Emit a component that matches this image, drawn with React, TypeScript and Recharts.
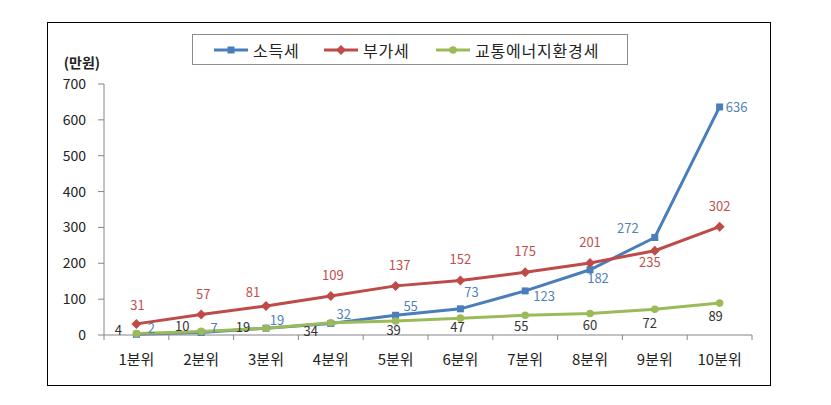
import { LineChart, Line, XAxis, YAxis, LabelList } from 'recharts'

const categories = ['1분위', '2분위', '3분위', '4분위', '5분위', '6분위', '7분위', '8분위', '9분위', '10분위']
const incomeTax = [2, 7, 19, 32, 55, 73, 123, 182, 272, 636]
const vat = [31, 57, 81, 109, 137, 152, 175, 201, 235, 302]
const energyTax = [4, 10, 19, 34, 39, 47, 55, 60, 72, 89]
const yTicks = [0, 100, 200, 300, 400, 500, 600, 700]
const seriesNames = ['소득세', '부가세', '교통에너지환경세']
const unitLabel = '(만원)'

// label nudges (px) so the numbers sit where Excel put them
const incomeOffsets = [[15, -7], [13, -5], [11, -9], [13, -10], [15, -10], [11, -17], [19, 5], [8, 8], [-27, -10], [17, 0]]
const vatOffsets = [[1, -19], [2, -21], [-13, -14], [2, -21], [4, -21], [0, -22], [0, -22], [0, -21], [-5, 11], [0, -21]]
const energyOffsets = [[-18, -4], [-19, -6], [-23, -2], [-20, 8], [-2, 8], [-3, 8], [-4, 10], [0, 11], [-5, 13], [-4, 12]]

const FONT = '"Noto Sans CJK KR", "Noto Sans", sans-serif'
const BLUE = '#4A7EBB'
const RED = '#BE4B48'
const GREEN = '#9BBB59'

const W = 831
const H = 405
const M = { top: 84, right: 79, bottom: 40, left: 64 }
const Y_AXIS_W = 40
const X_AXIS_H = 30
const STEP = (W - M.left - Y_AXIS_W - M.right) / categories.length

const data = categories.map((name, i) => ({
  name,
  income: incomeTax[i],
  vat: vat[i],
  energy: energyTax[i],
}))

function squareDot(color: string) {
  return (p: any) => {
    if (p.cx == null || p.cy == null) return <g key={`s-${p.index}`} />
    return <rect key={`s-${p.index}`} x={p.cx - 3.5} y={p.cy - 3.5} width={7} height={7} fill={color} />
  }
}

function diamondDot(color: string) {
  return (p: any) => {
    if (p.cx == null || p.cy == null) return <g key={`d-${p.index}`} />
    const r = 5
    return (
      <polygon
        key={`d-${p.index}`}
        points={`${p.cx},${p.cy - r} ${p.cx + r},${p.cy} ${p.cx},${p.cy + r} ${p.cx - r},${p.cy}`}
        fill={color}
      />
    )
  }
}

function circleDot(color: string) {
  return (p: any) => {
    if (p.cx == null || p.cy == null) return <g key={`c-${p.index}`} />
    return <circle key={`c-${p.index}`} cx={p.cx} cy={p.cy} r={3.8} fill={color} />
  }
}

function makeLabel(offsets: number[][], color: string) {
  return (props: any) => {
    const x = props.x ?? props.viewBox?.x
    const y = props.y ?? props.viewBox?.y
    if (x == null || y == null) return null
    const [dx, dy] = offsets[props.index] ?? [0, -14]
    return (
      <text
        x={x + dx}
        y={y + dy}
        textAnchor="middle"
        dominantBaseline="central"
        fill={color}
        fontSize={13}
        fontFamily={FONT}
      >
        {props.value}
      </text>
    )
  }
}

function CategoryTick({ x, y, payload, index }: any) {
  const last = index === categories.length - 1
  return (
    <g>
      <line x1={x - STEP / 2} y1={y} x2={x - STEP / 2} y2={y + 5} stroke="#868686" />
      {last && <line x1={x + STEP / 2} y1={y} x2={x + STEP / 2} y2={y + 5} stroke="#868686" />}
      <text x={x} y={y + 23} textAnchor="middle" dominantBaseline="central" fill="#222" fontSize={15} fontFamily={FONT}>
        {payload.value}
      </text>
    </g>
  )
}

function LegendBox() {
  const items = [
    { name: seriesNames[0], color: BLUE, x: 21, marker: 'square' },
    { name: seriesNames[1], color: RED, x: 131, marker: 'diamond' },
    { name: seriesNames[2], color: GREEN, x: 243, marker: 'circle' },
  ]
  return (
    <div
      style={{
        position: 'absolute',
        left: 192,
        top: 34,
        width: 434,
        height: 29,
        border: '1px solid #8c8c8c',
        background: '#fff',
      }}
    >
      <svg width={434} height={29}>
        {items.map((it) => {
          const cx = it.x + 17
          return (
            <g key={it.name}>
              <line x1={it.x} y1={15} x2={it.x + 34} y2={15} stroke={it.color} strokeWidth={3} />
              {it.marker === 'square' && <rect x={cx - 3.5} y={11.5} width={7} height={7} fill={it.color} />}
              {it.marker === 'diamond' && (
                <polygon points={`${cx},10 ${cx + 5},15 ${cx},20 ${cx - 5},15`} fill={it.color} />
              )}
              {it.marker === 'circle' && <circle cx={cx} cy={15} r={3.8} fill={it.color} />}
              <text x={it.x + 39} y={15} dominantBaseline="central" fontSize={16} letterSpacing={0.8} fontFamily={FONT} fill="#222">
                {it.name}
              </text>
            </g>
          )
        })}
      </svg>
    </div>
  )
}

export default function App() {
  return (
    <div style={{ position: 'absolute', left: 0, top: 0, width: W, height: H, background: '#fff' }}>
      <div
        style={{
          position: 'absolute',
          left: 47,
          top: 22,
          width: 722,
          height: 362,
          border: '1.5px solid #000',
        }}
      />
      <div
        style={{
          position: 'absolute',
          left: 82,
          top: 62,
          transform: 'translate(-50%, -50%)',
          fontFamily: FONT,
          fontSize: 14,
          fontWeight: 700,
          color: '#222',
          whiteSpace: 'nowrap',
        }}
      >
        {unitLabel}
      </div>
      <div style={{ position: 'absolute', left: 0, top: 0 }}>
        <LineChart width={W} height={H} data={data} margin={M}>
          <XAxis
            dataKey="name"
            height={X_AXIS_H}
            padding={{ left: STEP / 2, right: STEP / 2 }}
            axisLine={{ stroke: '#868686' }}
            tickLine={false}
            tickSize={0}
            tickMargin={0}
            interval={0}
            tick={<CategoryTick />}
          />
          <YAxis
            width={Y_AXIS_W}
            domain={[0, 700]}
            ticks={yTicks}
            axisLine={{ stroke: '#868686' }}
            tickLine={{ stroke: '#868686' }}
            tickSize={6}
            tickMargin={12}
            tick={{ fontSize: 14, fill: '#222', fontFamily: FONT }}
          />
          <Line
            dataKey="income"
            stroke={BLUE}
            strokeWidth={3}
            dot={squareDot(BLUE)}
            activeDot={false}
            isAnimationActive={false}
          >
            <LabelList dataKey="income" content={makeLabel(incomeOffsets, '#4F81BD')} />
          </Line>
          <Line
            dataKey="vat"
            stroke={RED}
            strokeWidth={3}
            dot={diamondDot(RED)}
            activeDot={false}
            isAnimationActive={false}
          >
            <LabelList dataKey="vat" content={makeLabel(vatOffsets, '#C0504D')} />
          </Line>
          <Line
            dataKey="energy"
            stroke={GREEN}
            strokeWidth={3}
            dot={circleDot(GREEN)}
            activeDot={false}
            isAnimationActive={false}
          >
            <LabelList dataKey="energy" content={makeLabel(energyOffsets, '#333')} />
          </Line>
        </LineChart>
      </div>
      <LegendBox />
    </div>
  )
}
